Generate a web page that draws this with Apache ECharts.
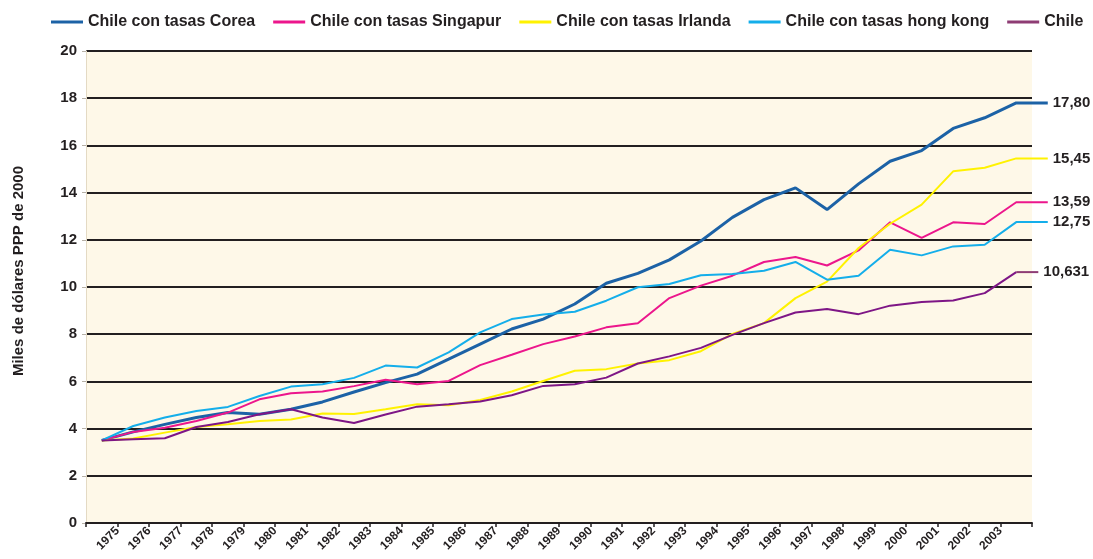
<!DOCTYPE html>
<html>
<head>
<meta charset="utf-8">
<script src="https://cdn.jsdelivr.net/npm/echarts@6/dist/echarts.min.js"></script>
<style>
  html, body { margin: 0; padding: 0; background: #fff; }
  #chart { width: 1093px; height: 559px; }
</style>
</head>
<body>
<div id="chart"></div>
<script>
// años (la ultima categoria no lleva etiqueta)
var years = ['1975', '1976', '1977', '1978', '1979', '1980', '1981', '1982', '1983', '1984',
    '1985', '1986', '1987', '1988', '1989', '1990', '1991', '1992', '1993', '1994',
    '1995', '1996', '1997', '1998', '1999', '2000', '2001', '2002', '2003'];

var corea = [3.5, 3.86, 4.18, 4.47, 4.68, 4.61, 4.82, 5.13, 5.55, 5.95,
    6.31, 6.94, 7.58, 8.22, 8.64, 9.28, 10.16, 10.58, 11.15, 11.95,
    12.95, 13.7, 14.2, 13.28, 14.37, 15.33, 15.78, 16.72, 17.17, 17.8];
var singapur = [3.5, 3.86, 4.04, 4.32, 4.68, 5.24, 5.5, 5.57, 5.8, 6.07,
    5.88, 6.02, 6.69, 7.13, 7.58, 7.9, 8.29, 8.46, 9.53, 10.06,
    10.48, 11.06, 11.27, 10.91, 11.55, 12.74, 12.08, 12.74, 12.67, 13.59];
var irlanda = [3.5, 3.58, 3.83, 4.07, 4.18, 4.32, 4.39, 4.64, 4.62, 4.82,
    5.03, 4.99, 5.21, 5.57, 6.02, 6.45, 6.52, 6.76, 6.9, 7.28,
    8.01, 8.47, 9.53, 10.23, 11.65, 12.68, 13.49, 14.9, 15.05, 15.45];
var hongkong = [3.5, 4.11, 4.47, 4.75, 4.92, 5.38, 5.78, 5.88, 6.15, 6.67,
    6.59, 7.23, 8.08, 8.64, 8.83, 8.95, 9.42, 9.99, 10.13, 10.5,
    10.55, 10.69, 11.06, 10.31, 10.48, 11.58, 11.34, 11.72, 11.79, 12.75];
var chile = [3.5, 3.55, 3.59, 4.07, 4.28, 4.61, 4.82, 4.47, 4.24, 4.6,
    4.93, 5.03, 5.15, 5.41, 5.81, 5.88, 6.16, 6.76, 7.06, 7.42,
    7.97, 8.47, 8.92, 9.07, 8.85, 9.21, 9.36, 9.43, 9.74, 10.631];

var endLabels = ['17,80', '13,59', '15,45', '12,75', '10,631'];
var names = ['Chile con tasas Corea', 'Chile con tasas Singapur', 'Chile con tasas Irlanda',
    'Chile con tasas hong kong', 'Chile'];

var txt = '#231f20';
var font = '"Liberation Sans", Arial, sans-serif';
var N = years.length + 1;   // 30 categorias
var EXT = N + 0.5;          // hasta donde llega el tramo plano

function toPoints(values) {
    return values.map(function (v, i) { return [i + 0.5, v]; });
}

function endLabel(text) {
    return {
        show: true,
        formatter: text,
        color: txt,
        fontFamily: font,
        fontWeight: 'bold',
        fontSize: 15,
        distance: 5
    };
}

function mkLine(name, values, color, width, label, extTo) {
    var pts = toPoints(values);
    if (extTo) pts.push([extTo, values[values.length - 1]]);
    var s = {
        name: name,
        type: 'line',
        xAxisIndex: 1,
        yAxisIndex: 1,
        data: pts,
        symbol: 'none',
        clip: false,
        color: color,
        lineStyle: { color: color, width: width }
    };
    if (label) s.endLabel = endLabel(label);
    return s;
}

var chart = echarts.init(document.getElementById('chart'));
var last = chile.length - 1;

var option = {
    animation: false,
    textStyle: { fontFamily: font },
    legend: {
        left: 46,
        top: 9,
        width: 1045,
        icon: 'rect',
        itemWidth: 32,
        itemHeight: 3,
        itemGap: 18,
        textStyle: { color: txt, fontWeight: 'bold', fontSize: 16, fontFamily: font },
        data: [names[0], names[1], names[2], names[3],
            { name: 'Chile', itemStyle: { color: '#8e3c74' } }]
    },
    // grid 0: fondo y ejes; grid 1: las lineas (un poco mas ancha para el remate)
    grid: [{
        left: 86,
        right: 61,
        top: 51,
        bottom: 36,
        show: true,
        backgroundColor: '#fef8e8',
        borderWidth: 0
    }, {
        left: 86,
        right: 1093 - 86 - (1093 - 86 - 61) / N * EXT,
        top: 51,
        bottom: 36
    }],
    xAxis: [{
        type: 'category',
        gridIndex: 0,
        boundaryGap: false,
        data: [''].concat(years, ['']),
        axisLine: { lineStyle: { color: txt, width: 2 } },
        axisTick: { interval: 0, length: 4, lineStyle: { color: txt, width: 1.5 } },
        axisLabel: {
            interval: 0,
            rotate: 45,
            margin: 6,
            color: txt,
            fontWeight: 'bold',
            fontSize: 12,
            fontFamily: font
        },
        splitLine: { show: false }
    }, {
        type: 'value',
        gridIndex: 1,
        min: 0,
        max: EXT,
        show: false
    }],
    yAxis: [{
        type: 'value',
        gridIndex: 0,
        min: 0,
        max: 20,
        interval: 2,
        name: 'Miles de dólares PPP de 2000',
        nameLocation: 'middle',
        nameGap: 60,
        nameTextStyle: {
            color: txt, fontWeight: 'bold', fontSize: 15, fontFamily: font,
            padding: [0, 0, 0, 32]
        },
        axisLine: { show: true, lineStyle: { color: '#e4dac4', width: 1 } },
        axisTick: { show: true, length: 4, lineStyle: { color: '#b8b2a8' } },
        axisLabel: { margin: 9, color: txt, fontWeight: 'bold', fontSize: 15, fontFamily: font },
        splitLine: { lineStyle: { color: txt, width: 2 } }
    }, {
        type: 'value',
        gridIndex: 1,
        min: 0,
        max: 20,
        show: false
    }],
    series: [
        mkLine(names[0], corea, '#1c62a6', 3, endLabels[0], EXT),
        mkLine(names[1], singapur, '#ec168c', 2, endLabels[1], EXT),
        mkLine(names[2], irlanda, '#fff200', 2, endLabels[2], EXT),
        mkLine(names[3], hongkong, '#14aeea', 2, endLabels[3], EXT),
        mkLine(names[4], chile, '#7e1686', 2, null, null),
        // remate de Chile en otro tono, como en el original
        {
            name: 'Chile',
            type: 'line',
            xAxisIndex: 1,
            yAxisIndex: 1,
            data: [[last + 0.5, chile[last]], [N + 0.2, chile[last]]],
            symbol: 'none',
            clip: false,
            color: '#8e3c74',
            lineStyle: { color: '#8e3c74', width: 2 },
            endLabel: endLabel(endLabels[4])
        }
    ]
};

chart.setOption(option);
</script>
</body>
</html>
